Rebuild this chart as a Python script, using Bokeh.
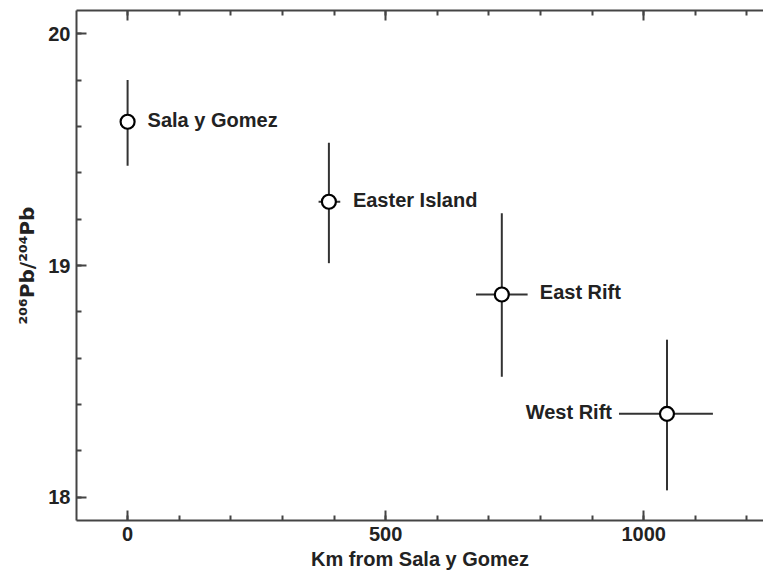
from bokeh.plotting import figure
from bokeh.models import (ColumnDataSource, LinearAxis, SingleIntervalTicker,
                          CustomJSTickFormatter, Range1d)
from bokeh.core.properties import value
from bokeh.embed import file_html
from bokeh.resources import INLINE

# ---- data ----
names = ["Sala y Gomez", "Easter Island", "East Rift", "West Rift"]
km = [0, 390, 725, 1045]
km_lo = [0, 370, 675, 952]
km_hi = [0, 412, 775, 1134]
pb = [19.62, 19.275, 18.875, 18.36]
pb_lo = [19.43, 19.01, 18.52, 18.03]
pb_hi = [19.80, 19.53, 19.225, 18.68]

FONT = "Liberation Sans"
INK = "#222222"

src = ColumnDataSource(dict(km=km, km_lo=km_lo, km_hi=km_hi,
                            pb=pb, pb_lo=pb_lo, pb_hi=pb_hi, name=names))

p = figure(width=763, height=572, output_backend="svg", toolbar_location=None,
           x_range=Range1d(-99, 1232), y_range=Range1d(17.9, 20.1),
           min_border_left=76, min_border_right=0, min_border_top=10,
           min_border_bottom=52, background_fill_color="white",
           border_fill_color="white")
p.outline_line_color = None
p.xgrid.visible = False
p.ygrid.visible = False

bottom = p.below[0]
left = p.left[0]
bottom.ticker = SingleIntervalTicker(interval=500, num_minor_ticks=5)
left.ticker = SingleIntervalTicker(interval=1, num_minor_ticks=5)

top = LinearAxis(ticker=SingleIntervalTicker(interval=500, num_minor_ticks=5),
                 formatter=CustomJSTickFormatter(code="return ''"))
p.add_layout(top, "above")

bottom.axis_label = "Km from Sala y Gomez"
left.axis_label = "²⁰⁶Pb/²⁰⁴Pb"

for ax in [bottom, left, top]:
    ax.axis_line_color = "#444444"
    ax.axis_line_width = 2
    ax.major_tick_line_color = "#444444"
    ax.minor_tick_line_color = "#444444"
    ax.major_tick_line_width = 2
    ax.minor_tick_line_width = 2
    ax.major_tick_in = 10
    ax.major_tick_out = 0
    ax.minor_tick_in = 5
    ax.minor_tick_out = 0
    ax.major_label_text_font = FONT
    ax.major_label_text_font_style = "bold"
    ax.major_label_text_font_size = "20px"
    ax.major_label_text_color = INK
    ax.axis_label_text_font = FONT
    ax.axis_label_text_font_style = "bold"
    ax.axis_label_text_font_size = "20px"
    ax.axis_label_text_color = INK
top.major_label_standoff = 0
bottom.major_label_standoff = 6
bottom.axis_label_standoff = 4
left.major_label_standoff = 6
left.axis_label_standoff = 6
left.axis_label_text_font = "DejaVu Sans"
left.axis_label_text_font_size = "20px"

# error bars
p.segment(x0="km", y0="pb_lo", x1="km", y1="pb_hi", source=src,
          line_color="#333333", line_width=2)
p.segment(x0="km_lo", y0="pb", x1="km_hi", y1="pb", source=src,
          line_color="#333333", line_width=2)

# points
p.scatter(x="km", y="pb", source=src, marker="circle", size=14,
          fill_color="white", line_color="black", line_width=2.2)

# labels (offsets are styling only)
label_style = [
    dict(x_offset=20, align="left"),
    dict(x_offset=24, align="left"),
    dict(x_offset=38, align="left"),
    dict(x_offset=-55, align="right"),
]
for i, st in enumerate(label_style):
    p.text(x=[km[i]], y=[pb[i]], text=[names[i]],
           x_offset=st["x_offset"], y_offset=-2,
           text_align=st["align"], text_baseline="middle",
           text_font=value(FONT), text_font_style="bold",
           text_font_size="20px", text_color=INK)

open("out.html", "w").write(file_html(p, INLINE))
